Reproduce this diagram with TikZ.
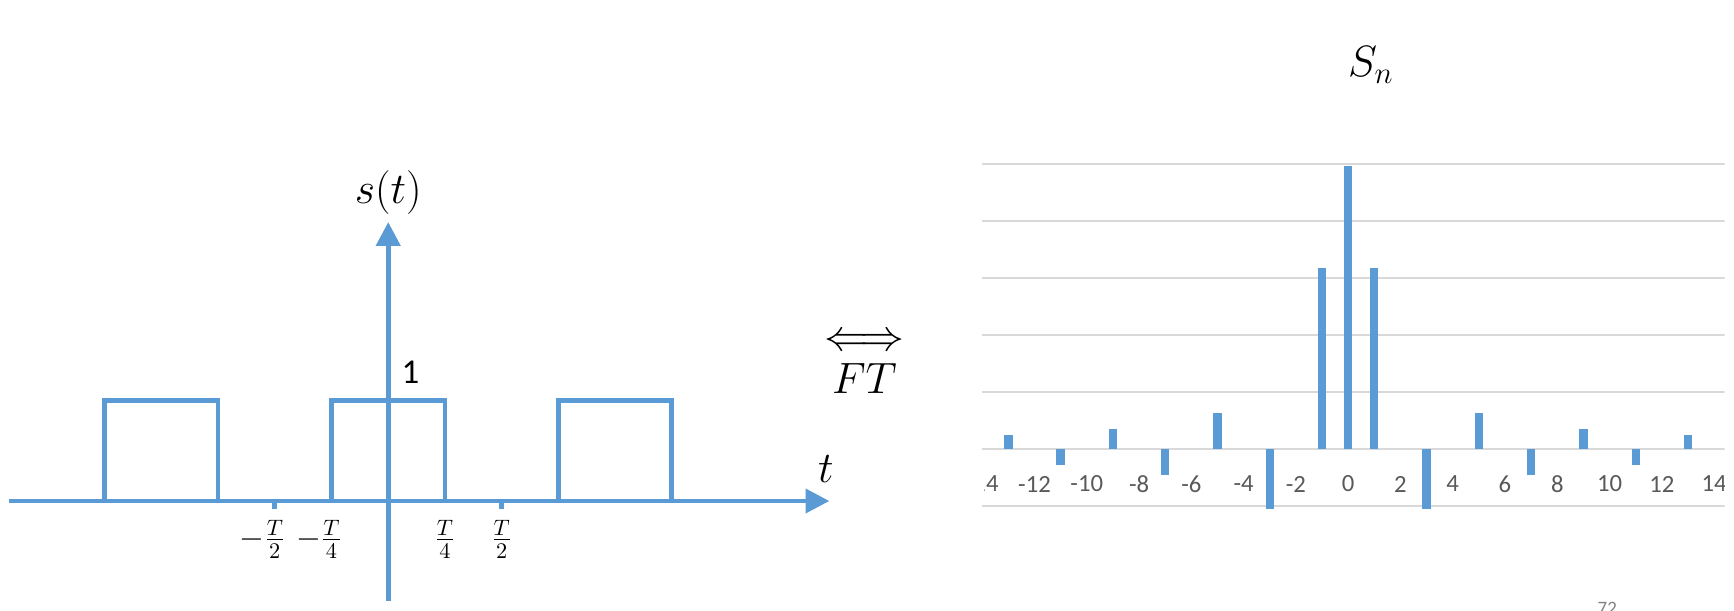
\RequirePackage{fix-cm}
\documentclass[tikz,border=0pt]{standalone}
\usepackage{amsmath}
\usepackage{fontspec}
\newfontfamily\calibri{Carlito}
\usepackage{xcolor}
\usepackage{tikz}
\usetikzlibrary{arrows.meta}
\definecolor{sigblue}{HTML}{5B9BD5}
\definecolor{gridgrey}{HTML}{D9D9D9}
\definecolor{labgrey}{HTML}{595959}
\definecolor{pagegrey}{HTML}{808080}

\begin{document}
\begin{tikzpicture}[
	%	style def
    scale=1,
    signal line/.style={sigblue, line width=2.36pt},
    axis arrow/.style={signal line, -{Triangle[length=0.42cm, width=0.42cm]}},
    grid line/.style={gridgrey, line width=1.1pt},
    coef bar/.style={sigblue, line width=4.16pt},
    math label/.style={font=\fontsize{22}{26}\selectfont, inner sep=0pt},
    frac label/.style={font=\fontsize{16}{19}\selectfont, inner sep=0pt},
    tick label/.style={font=\calibri\fontsize{12.4}{15}\selectfont, text=labgrey, inner sep=0pt},
    every node/.style={color=black}
    ]
    \useasboundingbox (-6.847,-1.940) rectangle (23.735,8.836);

	% periodic square wave s(t)
	\draw[signal line] (-5,0) coordinate (r1) -- (-5,1.77) -- (-3,1.77) -- (-3,0);
	\draw[signal line] (-1,0) coordinate (r2) -- (-1,1.77) -- (1,1.77) -- (1,0);
	\draw[signal line] (3,0) coordinate (r3) -- (3,1.77) -- (5,1.77) -- (5,0);
	% axes
	\draw[axis arrow] (-6.69,0) coordinate (tstart) -- (7.78,0) coordinate (tend);
	\draw[axis arrow] (0,-1.76) coordinate (sstart) -- (0,4.92) coordinate (send);
	\draw[signal line] (-2,0) -- (-2,-0.147) (2,0) -- (2,-0.147);

	\node[math label, anchor=base] (st) at (0,5.25) {$s(t)$};
	\node[math label, anchor=base] (tlab) at (7.72,0.32) {$t$};
	\node[font=\calibri\fontsize{17.5}{21}\selectfont, anchor=base, inner sep=0pt] (one) at (0.39,2.07) {1};
	\node[frac label] (mhalf) at (-2,-0.675) {$\llap{$-$}\frac{T}{2}$};
	\node[frac label] (mquarter) at (-1,-0.675) {$\llap{$-$}\frac{T}{4}$};
	\node[frac label] (quarter) at (1,-0.675) {$\frac{T}{4}$};
	\node[frac label] (half) at (2,-0.675) {$\frac{T}{2}$};

	% transform pair
	\node[math label] (iff) at (8.40,2.79) {$\Longleftrightarrow$};
	\node[math label, anchor=base] (ft) at (8.40,1.90) {$FT$};

	% spectrum S_n
	\node[math label, anchor=base] (sn) at (17.33,7.478) {$S_n$};
	\begin{scope}[shift={(16.93,0.917)}, x=0.461cm, y=10.05cm]
	\clip (-14.01,-0.2) rectangle (14.40,0.6);
	\draw[grid line] (-14.01,-0.1) -- (14.40,-0.1)
	                 (-14.01,0) -- (14.40,0)
	                 (-14.01,0.1) -- (14.40,0.1)
	                 (-14.01,0.2) -- (14.40,0.2)
	                 (-14.01,0.3) -- (14.40,0.3)
	                 (-14.01,0.4) -- (14.40,0.4)
	                 (-14.01,0.5) -- (14.40,0.5);
	% coefficients
	\draw[coef bar] (-13,0) -- (-13,0.0245)
	                (-11,0) -- (-11,-0.0289)
	                (-9,0) -- (-9,0.0354)
	                (-7,0) -- (-7,-0.0455)
	                (-5,0) -- (-5,0.0637)
	                (-3,0) -- (-3,-0.1061)
	                (-1,0) -- (-1,0.3183)
	                (0,0) -- (0,0.496)
	                (1,0) -- (1,0.3183)
	                (3,0) -- (3,-0.1061)
	                (5,0) -- (5,0.0637)
	                (7,0) -- (7,-0.0455)
	                (9,0) -- (9,0.0354)
	                (11,0) -- (11,-0.0289)
	                (13,0) -- (13,0.0245);
	% category labels, cut at the chart's left edge
	\begin{scope}
	\clip (-13.93,-0.2) rectangle (14.40,0.6);
	\node[tick label] (lm14) at (-14,-0.0614) {-14};
	\end{scope}
	\node[tick label] (lm12) at (-12,-0.0614) {-12};
	\node[tick label] (lm10) at (-10,-0.0614) {-10};
	\node[tick label] (lm8) at (-8,-0.0614) {-8};
	\node[tick label] (lm6) at (-6,-0.0614) {-6};
	\node[tick label] (lm4) at (-4,-0.0614) {-4};
	\node[tick label] (lm2) at (-2,-0.0614) {-2};
	\node[tick label] (l0) at (0,-0.0614) {0};
	\node[tick label] (l2) at (2,-0.0614) {2};
	\node[tick label] (l4) at (4,-0.0614) {4};
	\node[tick label] (l6) at (6,-0.0614) {6};
	\node[tick label] (l8) at (8,-0.0614) {8};
	\node[tick label] (l10) at (10,-0.0614) {10};
	\node[tick label] (l12) at (12,-0.0614) {12};
	\node[tick label] (l14) at (14,-0.0614) {14};
	\end{scope}

	% slide number
	\node[font=\calibri\fontsize{9.5}{11}\selectfont, text=pagegrey, anchor=north, inner sep=0pt] (page) at (21.5,-1.776) {72};
\end{tikzpicture}
\end{document}
